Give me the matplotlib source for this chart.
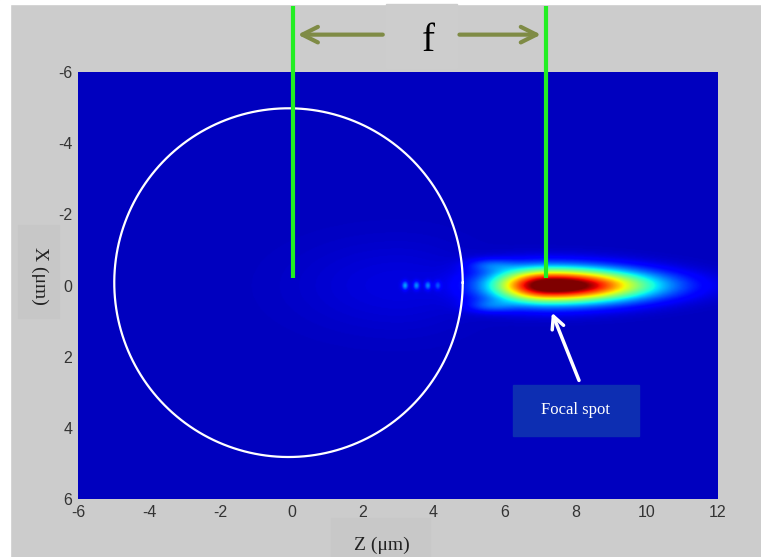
import numpy as np
import matplotlib
matplotlib.use("Agg")
import matplotlib.pyplot as plt
from matplotlib.patches import Rectangle

plt.rcParams["axes.unicode_minus"] = False

# axis ticks
z_ticks = [-6, -4, -2, 0, 2, 4, 6, 8, 10, 12]
x_ticks = [-6, -4, -2, 0, 2, 4, 6]

# field: background level + gaussian spots (z, x, amplitude, sigma_z left, sigma_z right, sigma_x)
bg_level = 0.055
spot_z = [7.2, 9.0, 5.6, 5.6, 3.2, 3.52, 3.84, 4.12, 3.0]
spot_x = [0.0, 0.0, -0.58, 0.58, 0.0, 0.0, 0.0, 0.0, 0.0]
spot_amp = [0.95, 0.22, 0.11, 0.11, 0.20, 0.18, 0.17, 0.12, 0.03]
spot_szl = [1.05, 1.5, 0.45, 0.45, 0.06, 0.06, 0.06, 0.06, 2.0]
spot_szr = [1.6, 1.5, 0.5, 0.5, 0.06, 0.06, 0.06, 0.06, 1.5]
spot_sx = [0.34, 0.28, 0.13, 0.13, 0.08, 0.08, 0.08, 0.08, 0.9]

# lens circle and focal marks
circle_c = (-0.08, -0.08)
circle_r = 4.9
lens_z = 0.05
focus_z = 7.15

z = np.linspace(-6, 12, 720)
x = np.linspace(-6, 6, 480)
Z, X = np.meshgrid(z, x)
field = np.full(Z.shape, bg_level)
for zc, xc, a, sl, sr, sx in zip(spot_z, spot_x, spot_amp, spot_szl, spot_szr, spot_sx):
    sz = np.where(Z < zc, sl, sr)
    field += a * np.exp(-(Z - zc) ** 2 / (2 * sz ** 2) - (X - xc) ** 2 / (2 * sx ** 2))

fig = plt.figure(figsize=(7.61, 5.57), dpi=100, facecolor="#cccccc")


def fig_box(x0, y0, x1, y1, color):
    # box given in picture pixels (top-left origin)
    fig.patches.append(Rectangle((x0 / 761, 1 - y1 / 557), (x1 - x0) / 761, (y1 - y0) / 557,
                                 transform=fig.transFigure, color=color, zorder=-1))


# white margin on left / top
fig_box(0, 0, 10, 557, "white")
fig_box(0, 0, 761, 4, "white")
# label boxes
fig_box(18, 225, 59, 318, "#c7c7c7")
fig_box(331, 518, 430, 557, "#c8c8c8")
fig_box(386, 4, 457, 68, "#cdcdcd")

ax = fig.add_axes([78 / 761, 1 - 499 / 557, 640 / 761, 427 / 557])
ax.imshow(field, extent=[-6, 12, 6, -6], origin="upper", cmap="jet", vmin=0, vmax=1,
          aspect="auto", interpolation="bilinear")
ax.set_xlim(-6, 12)
ax.set_ylim(6, -6)
ax.set_xticks(z_ticks)
ax.set_yticks(x_ticks)
ax.tick_params(length=0, labelsize=11.5, labelcolor="#333333", pad=4)
for lab in ax.get_xticklabels() + ax.get_yticklabels():
    lab.set_family(["Liberation Sans Narrow", "Liberation Sans"])
for s in ax.spines.values():
    s.set_visible(False)

t = np.linspace(0, 2 * np.pi, 400)
ax.plot(circle_c[0] + circle_r * np.cos(t), circle_c[1] + circle_r * np.sin(t), color="white", lw=1.6)

# green marks from above the axes
for zm in [lens_z, focus_z]:
    ax.plot([zm, zm], [-7.85, -0.2], color="#22ee22", lw=3, clip_on=False, solid_capstyle="butt")

olive = "#7f8b45"
ax.annotate("", xy=(0.1, -7.05), xytext=(2.65, -7.05), annotation_clip=False,
            arrowprops=dict(arrowstyle="->", color=olive, lw=3, mutation_scale=28))
ax.annotate("", xy=(7.1, -7.05), xytext=(4.65, -7.05), annotation_clip=False,
            arrowprops=dict(arrowstyle="->", color=olive, lw=3, mutation_scale=28))
ax.text(3.84, -6.85, "f", ha="center", va="center", fontsize=28, family="Liberation Serif",
        color="black", clip_on=False)

# focal spot label
ax.add_patch(Rectangle((6.23, 2.8), 3.54, 1.43, color="#0d2eb2", zorder=3))
ax.text(8.0, 3.5, "Focal spot", ha="center", va="center", color="white", fontsize=12,
        family="Liberation Serif", zorder=4)
ax.annotate("", xy=(7.3, 0.69), xytext=(8.12, 2.74),
            arrowprops=dict(arrowstyle="->", color="white", lw=2.5, mutation_scale=22), zorder=4)

fig.text(40 / 761, 1 - 276 / 557, "X (μm)", rotation=-90, ha="center", va="center",
         fontsize=14, family="Liberation Serif", color="#222222")
fig.text(382 / 761, 1 - 545 / 557, "Z (μm)", ha="center", va="center",
         fontsize=14, family="Liberation Serif", color="#222222")

fig.savefig("out.png", dpi=100, facecolor=fig.get_facecolor())
